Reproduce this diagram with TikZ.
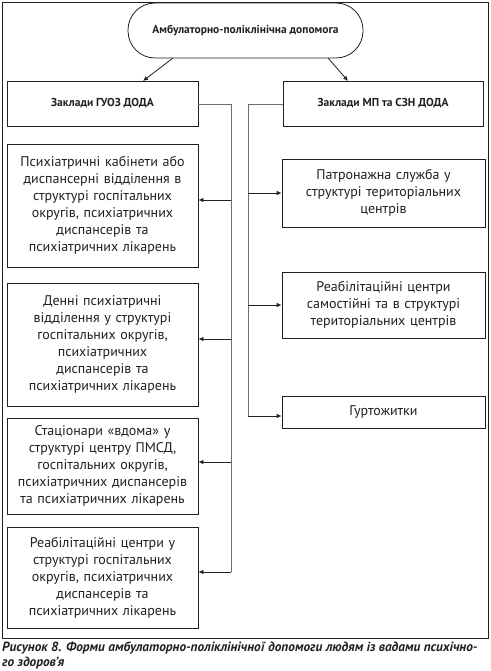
\documentclass[tikz,border=0pt]{standalone}
\usepackage{fontspec}
\setmainfont{PT Sans}
\usetikzlibrary{arrows.meta}
\definecolor{ink}{HTML}{231F20}
\definecolor{trunk}{HTML}{6D6E70}
\begin{document}
\begin{tikzpicture}[x=1pt,y=-1pt,
  box/.style={draw=ink,line width=0.8pt,text=ink,align=center,inner sep=2pt,font=\fontsize{14}{17}\selectfont},
  head/.style={draw=ink,line width=0.8pt,text=ink,align=center,font=\bfseries\fontsize{11.5}{13}\selectfont},
  arr/.style={draw=ink,line width=0.8pt,-{Latex[length=5pt,width=4.5pt]}},
  trk/.style={draw=trunk,line width=0.9pt}]
\useasboundingbox (0,0) rectangle (490,671);
\draw[draw=ink,line width=0.8pt] (2,2) rectangle (488,638);
% top
\node[head,rounded corners=27pt,minimum width=235pt,minimum height=55pt] (top) at (245.5,30.5) {Амбулаторно-поліклінічна допомога};
\node[head,minimum width=191pt,minimum height=45pt] (guoz) at (102.5,103.5) {Заклади ГУОЗ ДОДА};
\node[head,minimum width=200pt,minimum height=45pt] (mp) at (383,103.5) {Заклади МП та СЗН ДОДА};
\coordinate (t1) at (173,58); \coordinate (t2) at (328,58);
\draw[arr] (t1) -- (143,81);
\draw[arr] (t2) -- (348,81);
% left boxes
\node[box,minimum width=191pt,minimum height=123pt,text width=187pt] (l1) at (102.5,205.5) {Психіатричні кабінети або\\диспансерні відділення в\\структурі госпітальних\\округів, психіатричних\\диспансерів та\\психіатричних лікарень};
\node[box,minimum width=191pt,minimum height=123pt,text width=187pt] (l2) at (102.5,344.5) {Денні психіатричні\\відділення у структурі\\госпітальних округів,\\психіатричних\\диспансерів та\\психіатричних лікарень};
\node[box,minimum width=191pt,minimum height=96pt,text width=187pt] (l3) at (102.5,466) {Стаціонари «вдома» у\\структурі центру ПМСД,\\госпітальних округів,\\психіатричних диспансерів\\та психіатричних лікарень};
\node[box,minimum width=191pt,minimum height=101pt,text width=187pt] (l4) at (102.5,577.5) {Реабілітаційні центри у\\структурі госпітальних\\округів, психіатричних\\диспансерів та\\психіатричних лікарень};
% right boxes
\node[box,minimum width=203pt,minimum height=68pt,text width=197pt] (r1) at (383.5,193) {Патронажна служба у\\структурі територіальних\\центрів};
\node[box,minimum width=203pt,minimum height=66pt,text width=197pt] (r2) at (383.5,305) {Реабілітаційні центри\\самостійні та в структурі\\територіальних центрів};
\node[box,minimum width=203pt,minimum height=32pt,text width=197pt] (r3) at (383.5,412) {Гуртожитки};
% trunks
\coordinate (la) at (231,104.5);
\coordinate (lb) at (231,200); \coordinate (lc) at (231,339);
\coordinate (ld) at (231,462); \coordinate (le) at (231,572);
\draw[trk] (guoz.east |- la) -- (la) -- (le);
\coordinate (ra) at (248,104.5);
\coordinate (rb) at (248,193); \coordinate (rc) at (248,305); \coordinate (rd) at (248,416);
\draw[trk] (mp.west |- ra) -- (ra) -- (rd);
\draw[arr] (lb) -- (l1.east |- lb);
\draw[arr] (lc) -- (l2.east |- lc);
\draw[arr] (ld) -- (l3.east |- ld);
\draw[arr] (le) -- (l4.east |- le);
\draw[arr] (rb) -- (r1.west |- rb);
\draw[arr] (rc) -- (r2.west |- rc);
\draw[arr] (rd) -- (r3.west |- rd);
% caption
\node[anchor=north west,inner sep=0pt,text=ink,font=\bfseries\itshape\fontsize{13.3}{15}\selectfont,align=left] (cap) at (2,642) {Рисунок 8. Форми амбулаторно-поліклінічної допомоги людям із вадами психічно-\\го здоров’я};
\end{tikzpicture}
\end{document}
